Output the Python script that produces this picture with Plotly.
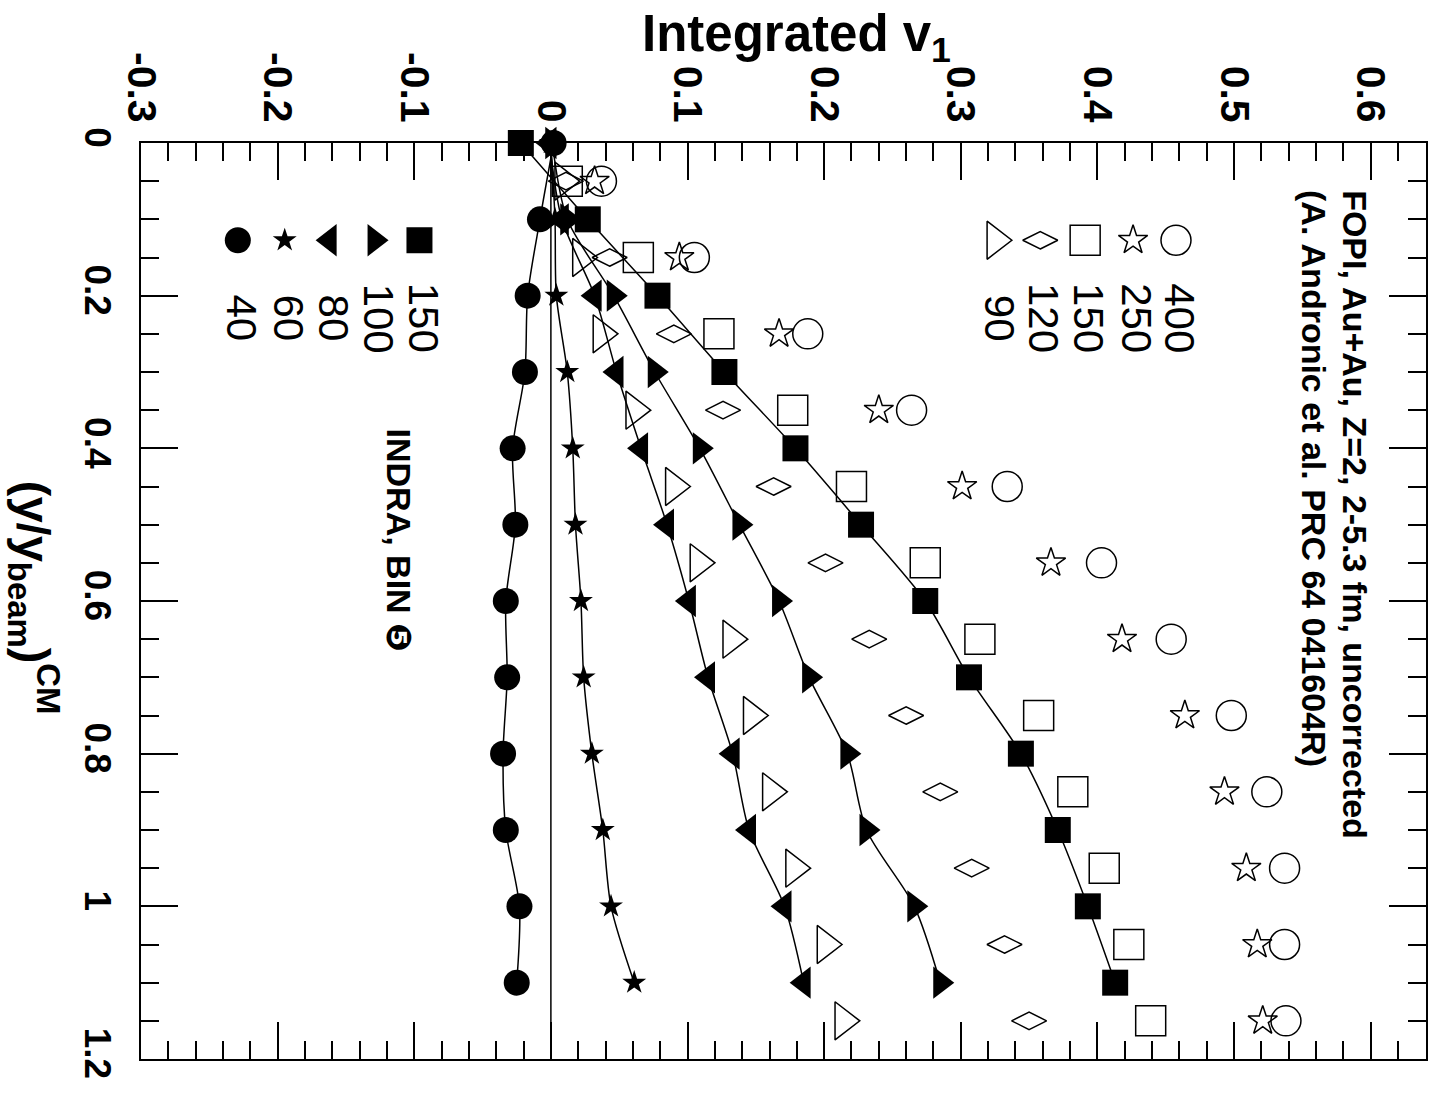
import plotly.graph_objects as go

# ---------------- data ----------------
# reduced rapidity (y/y_beam) in the CM frame
rap_indra = [0.0, 0.1, 0.2, 0.3, 0.4, 0.5, 0.6, 0.7, 0.8, 0.9, 1.0, 1.1]
rap_fopi = [0.05, 0.15, 0.25, 0.35, 0.45, 0.55, 0.65, 0.75, 0.85, 0.95, 1.05, 1.15]

# INDRA, BIN 5 : integrated v1 per beam energy (A MeV)
indra_150 = [-0.022, 0.027, 0.078, 0.127, 0.179, 0.227, 0.274, 0.306, 0.344, 0.371, 0.393, 0.413]
indra_100 = [0.001, 0.012, 0.046, 0.076, 0.109, 0.138, 0.167, 0.189, 0.217, 0.231, 0.266, 0.285]
indra_80 = [-0.001, 0.008, 0.032, 0.048, 0.066, 0.085, 0.101, 0.115, 0.133, 0.145, 0.171, 0.185]
indra_60 = [0.0, 0.003, 0.004, 0.012, 0.016, 0.018, 0.022, 0.024, 0.030, 0.038, 0.044, 0.061]
indra_40 = [0.002, -0.008, -0.017, -0.019, -0.028, -0.026, -0.033, -0.032, -0.035, -0.033, -0.023, -0.025]

# FOPI, Au+Au, Z=2 : integrated v1 per beam energy (A MeV)
fopi_400 = [0.037, 0.105, 0.188, 0.264, 0.334, 0.403, 0.454, 0.498, 0.524, 0.537, 0.537, 0.538]
fopi_250 = [0.032, 0.094, 0.167, 0.240, 0.301, 0.366, 0.418, 0.464, 0.493, 0.509, 0.517, 0.521]
fopi_150 = [0.012, 0.064, 0.123, 0.177, 0.220, 0.274, 0.314, 0.357, 0.382, 0.405, 0.423, 0.439]
fopi_120 = [0.011, 0.043, 0.090, 0.126, 0.163, 0.201, 0.233, 0.260, 0.285, 0.308, 0.332, 0.350]
fopi_90 = [0.009, 0.022, 0.037, 0.061, 0.090, 0.108, 0.132, 0.147, 0.161, 0.178, 0.201, 0.214]

indra_labels = ["150", "100", "80", "60", "40"]
fopi_labels = ["400", "250", "150", "120", "90"]

x_tickvals = [-0.3, -0.2, -0.1, 0.0, 0.1, 0.2, 0.3, 0.4, 0.5, 0.6]
x_ticktext = ["-0.3", "-0.2", "-0.1", "0", "0.1", "0.2", "0.3", "0.4", "0.5", "0.6"]
y_tickvals = [0.0, 0.2, 0.4, 0.6, 0.8, 1.0, 1.2]
y_ticktext = ["0", "0.2", "0.4", "0.6", "0.8", "1", "1.2"]

# ---------------- layout geometry ----------------
W, H = 1435, 1093
PL, PR, PT, PB = 141.0, 1428.5, 142.7, 1059.3
XR = [-0.3, 0.6405]
YR = [1.2, 0.0]
FONT = "Liberation Sans, Arial, sans-serif"


def xpx(px):
    return XR[0] + (px - PL) / (PR - PL) * (XR[1] - XR[0])


def ypx(py):
    return YR[1] + (py - PT) / (PB - PT) * (YR[0] - YR[1])


def paper_x(px):
    return (px - PL) / (PR - PL)


def paper_y(py):
    return (PB - py) / (PB - PT)


fig = go.Figure()

# vertical reference line at v1 = 0
fig.add_shape(type="line", xref="x", yref="paper", x0=0, x1=0, y0=0, y1=1,
              line=dict(color="black", width=1.5), layer="below")

indra_series = [
    (indra_150, "square", 26),
    (indra_100, "triangle-right", 28),
    (indra_80, "triangle-left", 28),
    (indra_60, "star", 18),
    (indra_40, "circle", 26),
]
fopi_series = [
    (fopi_400, "circle-open", 30),
    (fopi_250, "star-open", 22),
    (fopi_150, "square-open", 30),
    (fopi_120, "diamond-wide-open", 25),
    (fopi_90, "triangle-right-open", 33),
]

for vals, sym, size in fopi_series:
    fig.add_trace(go.Scatter(
        x=vals, y=rap_fopi, mode="markers", cliponaxis=False,
        marker=dict(symbol=sym, size=size, color="black", line=dict(width=1.5, color="black")),
        showlegend=False))

for vals, sym, size in indra_series:
    fig.add_trace(go.Scatter(
        x=vals, y=rap_indra, mode="lines+markers", cliponaxis=False,
        line=dict(color="black", width=1.5, shape="spline", smoothing=0.8),
        marker=dict(symbol=sym, size=size, color="black", line=dict(width=0)),
        showlegend=False))

# ---------------- hand-placed keys ----------------
key_row_y = ypx(240)
label_row_y = ypx(318)
fopi_key_x = [1178, 1135, 1087, 1042, 997]
indra_key_x = [420, 375, 330, 285, 238]

annotations = []
for (vals, sym, size), kx, lab in zip(fopi_series, fopi_key_x, fopi_labels):
    fig.add_trace(go.Scatter(
        x=[xpx(kx)], y=[key_row_y], mode="markers", cliponaxis=False,
        marker=dict(symbol=sym, size=size, color="black", line=dict(width=1.5, color="black")),
        showlegend=False))
    annotations.append(dict(x=xpx(kx + 4), y=label_row_y, text=lab, textangle=90,
                            showarrow=False, xanchor="center", yanchor="middle",
                            font=dict(family=FONT, size=42, color="black")))

for (vals, sym, size), kx, lab in zip(indra_series, indra_key_x, indra_labels):
    fig.add_trace(go.Scatter(
        x=[xpx(kx)], y=[key_row_y], mode="markers", cliponaxis=False,
        marker=dict(symbol=sym, size=size, color="black", line=dict(width=0)),
        showlegend=False))
    annotations.append(dict(x=xpx(kx + 4), y=label_row_y, text=lab, textangle=90,
                            showarrow=False, xanchor="center", yanchor="middle",
                            font=dict(family=FONT, size=42, color="black")))

# text blocks
annotations += [
    dict(x=xpx(1358), y=ypx(188), text="FOPI, Au+Au, Z=2, 2-5.3 fm, uncorrected",
         textangle=90, showarrow=False, xanchor="center", yanchor="top",
         font=dict(family=FONT, size=34, color="black", weight="bold")),
    dict(x=xpx(1317), y=ypx(188), text="(A. Andronic et al. PRC 64 041604R)",
         textangle=90, showarrow=False, xanchor="center", yanchor="top",
         font=dict(family=FONT, size=34, color="black", weight="bold")),
    dict(x=xpx(399), y=ypx(540), text="INDRA, BIN \u277a",
         textangle=90, showarrow=False, xanchor="center", yanchor="middle",
         font=dict(family=FONT + ", DejaVu Sans", size=34, color="black", weight="bold")),
    dict(xref="paper", yref="paper", x=paper_x(798), y=paper_y(37),
         text="Integrated v<sub>1</sub>",
         showarrow=False, xanchor="center", yanchor="middle",
         font=dict(family=FONT, size=51, color="black", weight="bold")),
    dict(xref="paper", yref="paper", x=paper_x(34), y=paper_y(598),
         text="(y/y<sub>beam</sub>)<sup>CM</sup>",
         textangle=90, showarrow=False, xanchor="center", yanchor="middle",
         font=dict(family=FONT, size=47, color="black", weight="bold")),
]

axis_common = dict(
    showgrid=False, zeroline=False, showline=True, linecolor="black", linewidth=2,
    mirror="ticks", ticks="inside", tickcolor="black", tickwidth=1.5, ticklen=37,
    tickmode="array",
)

fig.update_layout(
    width=W, height=H,
    margin=dict(l=PL, r=W - PR, t=PT, b=H - PB, pad=0),
    paper_bgcolor="white", plot_bgcolor="white",
    font=dict(family=FONT, color="black"),
    annotations=annotations,
    xaxis=dict(axis_common, side="top", range=XR, tickvals=x_tickvals, ticktext=x_ticktext,
               tickangle=90, ticklabelstandoff=4,
               tickfont=dict(family=FONT, size=41, color="black", weight="bold"),
               minor=dict(dtick=0.02, tick0=0, ticks="inside", ticklen=18, tickwidth=1.5,
                          tickcolor="black", showgrid=False)),
    yaxis=dict(axis_common, range=YR, tickvals=y_tickvals, ticktext=y_ticktext,
               tickangle=90, ticklabelstandoff=10,
               tickfont=dict(family=FONT, size=37, color="black", weight="bold"),
               minor=dict(dtick=0.05, tick0=0, ticks="inside", ticklen=18, tickwidth=1.5,
                          tickcolor="black", showgrid=False)),
)

fig.write_html("out.html")
